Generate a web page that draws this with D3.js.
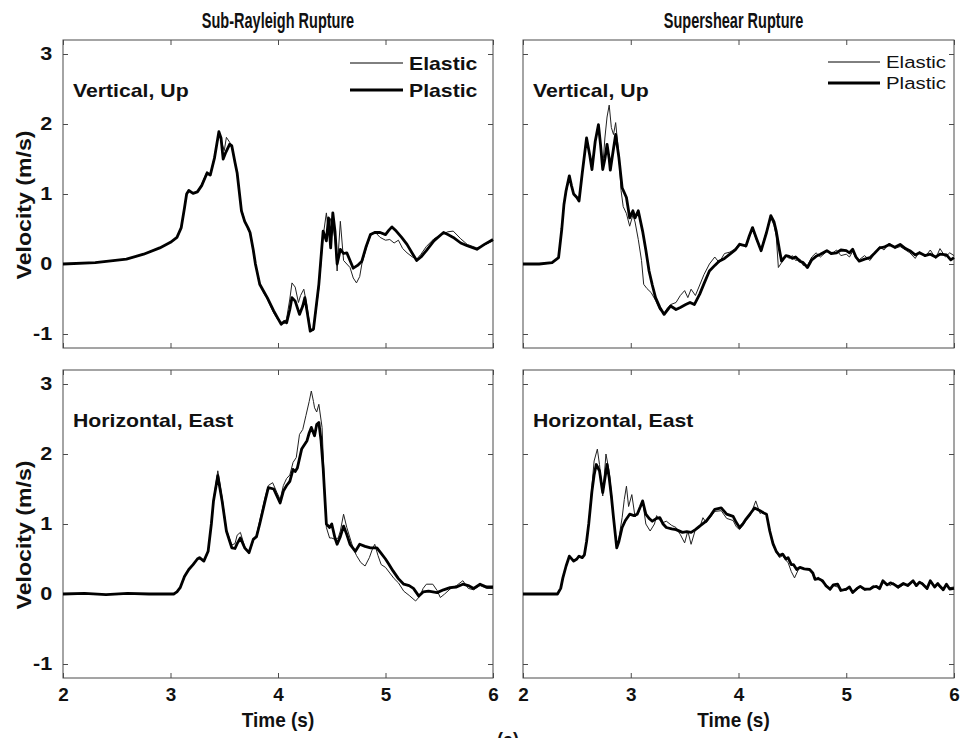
<!DOCTYPE html>
<html>
<head>
<meta charset="utf-8">
<script src="https://cdn.jsdelivr.net/npm/d3@7"></script>
<style>
  body { margin: 0; background: #fff; }
  svg { display: block; }
  .frame { fill: none; stroke: #4a4a4a; stroke-width: 1; }
  .tick line { stroke: #4a4a4a; }
  .domain { display: none; }
  .ytick text { font-family: "Liberation Sans", Arial, sans-serif; font-weight: bold; font-size: 18px; fill: #111; }
  .xtick text { font-family: "Liberation Sans", Arial, sans-serif; font-weight: bold; font-size: 18px; fill: #111; }
  .title { font-family: "Liberation Sans", Arial, sans-serif; font-weight: bold; font-size: 22px; fill: #111; }
  .lab { font-family: "Liberation Sans", Arial, sans-serif; font-weight: bold; font-size: 18px; fill: #111; }
  .elastic { fill: none; stroke: #222; stroke-width: 1; stroke-linejoin: round; }
  .plastic { fill: none; stroke: #000; stroke-width: 2.8; stroke-linejoin: round; }
</style>
</head>
<body>
<svg id="chart" width="962" height="738"></svg>
<script>
// axis settings
var timeDomain = [2, 6];
var velDomain = [-1.2, 3.2];
var timeTicks = [2, 3, 4, 5, 6];
var velTicks = [-1, 0, 1, 2, 3];
var columnTitles = ['Sub-Rayleigh Rupture', 'Supershear Rupture'];
var rowLabels = ['Vertical, Up', 'Horizontal, East'];
var seriesNames = ['Elastic', 'Plastic'];

var subVertPlastic = [[2.0,0],[2.3,0.02],[2.59,0.07],[2.75,0.14],[2.9,0.23],[3.0,0.31],[3.06,0.38],[3.10,0.52],[3.13,0.8],[3.15,1.0],[3.17,1.05],[3.21,1.01],[3.25,1.03],[3.29,1.12],[3.34,1.30],[3.37,1.27],[3.41,1.52],[3.45,1.89],[3.47,1.80],[3.49,1.50],[3.51,1.58],[3.55,1.71],[3.57,1.69],[3.60,1.45],[3.62,1.30],[3.66,0.76],[3.69,0.61],[3.72,0.52],[3.74,0.45],[3.77,0.2],[3.79,0.0],[3.83,-0.29],[3.87,-0.4],[3.90,-0.48],[3.96,-0.67],[4.00,-0.78],[4.03,-0.86],[4.06,-0.82],[4.08,-0.84],[4.11,-0.65],[4.13,-0.48],[4.16,-0.53],[4.20,-0.72],[4.23,-0.6],[4.25,-0.48],[4.28,-0.77],[4.30,-0.96],[4.33,-0.93],[4.38,-0.29],[4.42,0.47],[4.45,0.33],[4.47,0.66],[4.49,0.23],[4.51,0.73],[4.53,0.47],[4.55,0.0],[4.58,0.21],[4.61,0.15],[4.64,0.16],[4.67,0.05],[4.70,-0.06],[4.74,-0.02],[4.78,0.04],[4.82,0.25],[4.86,0.42],[4.90,0.45],[4.95,0.45],[5.00,0.42],[5.03,0.48],[5.06,0.53],[5.10,0.47],[5.15,0.38],[5.20,0.28],[5.25,0.15],[5.29,0.05],[5.33,0.1],[5.38,0.19],[5.45,0.33],[5.54,0.45],[5.58,0.42],[5.63,0.38],[5.70,0.30],[5.76,0.26],[5.85,0.21],[5.92,0.28],[6.0,0.35]];
var subVertElastic = [[2.0,0],[2.3,0.02],[2.59,0.07],[2.75,0.14],[2.9,0.23],[3.0,0.31],[3.06,0.38],[3.10,0.52],[3.13,0.8],[3.15,1.0],[3.17,1.05],[3.21,1.01],[3.25,1.03],[3.29,1.14],[3.34,1.32],[3.37,1.27],[3.41,1.55],[3.45,1.85],[3.48,1.72],[3.50,1.62],[3.52,1.81],[3.55,1.74],[3.57,1.70],[3.60,1.45],[3.62,1.30],[3.66,0.78],[3.69,0.63],[3.72,0.50],[3.74,0.45],[3.77,0.18],[3.79,-0.02],[3.83,-0.27],[3.87,-0.42],[3.90,-0.50],[3.96,-0.70],[4.00,-0.80],[4.03,-0.83],[4.06,-0.85],[4.08,-0.78],[4.11,-0.50],[4.13,-0.27],[4.16,-0.33],[4.19,-0.55],[4.21,-0.45],[4.24,-0.36],[4.27,-0.60],[4.30,-0.92],[4.33,-0.95],[4.38,-0.35],[4.42,0.40],[4.45,0.73],[4.47,0.45],[4.49,0.65],[4.51,0.55],[4.53,0.35],[4.55,-0.10],[4.58,0.61],[4.61,0.05],[4.64,0.0],[4.67,-0.05],[4.70,-0.20],[4.73,-0.27],[4.76,-0.18],[4.78,0.0],[4.82,0.22],[4.86,0.40],[4.90,0.46],[4.95,0.38],[5.00,0.34],[5.04,0.35],[5.08,0.30],[5.12,0.34],[5.16,0.22],[5.20,0.16],[5.25,0.10],[5.29,0.07],[5.33,0.14],[5.38,0.25],[5.45,0.36],[5.52,0.42],[5.58,0.46],[5.63,0.47],[5.70,0.36],[5.76,0.28],[5.85,0.23],[5.92,0.27],[6.0,0.33]];

var superVertPlastic = [[2.0,0],[2.15,0.0],[2.27,0.02],[2.33,0.09],[2.36,0.5],[2.38,0.85],[2.40,1.05],[2.43,1.26],[2.45,1.12],[2.47,1.0],[2.50,0.95],[2.52,0.90],[2.55,1.3],[2.59,1.80],[2.62,1.55],[2.64,1.35],[2.67,1.75],[2.70,1.99],[2.72,1.7],[2.74,1.35],[2.76,1.5],[2.78,1.71],[2.80,1.5],[2.81,1.34],[2.84,1.65],[2.86,1.85],[2.89,1.52],[2.92,1.09],[2.96,0.95],[2.99,0.66],[3.02,0.76],[3.04,0.66],[3.07,0.76],[3.11,0.47],[3.14,0.2],[3.17,-0.10],[3.20,-0.30],[3.23,-0.48],[3.27,-0.62],[3.31,-0.72],[3.34,-0.66],[3.37,-0.60],[3.42,-0.65],[3.46,-0.62],[3.51,-0.58],[3.55,-0.55],[3.59,-0.58],[3.64,-0.43],[3.68,-0.28],[3.73,-0.10],[3.78,-0.02],[3.82,0.04],[3.87,0.08],[3.92,0.14],[3.97,0.20],[4.01,0.28],[4.07,0.26],[4.10,0.40],[4.13,0.52],[4.17,0.35],[4.21,0.19],[4.26,0.45],[4.30,0.69],[4.33,0.60],[4.35,0.47],[4.38,0.20],[4.40,0.04],[4.44,0.12],[4.47,0.11],[4.50,0.08],[4.53,0.10],[4.57,0.04],[4.60,0.02],[4.64,-0.05],[4.68,0.06],[4.72,0.11],[4.76,0.14],[4.82,0.19],[4.86,0.15],[4.91,0.16],[4.95,0.20],[5.00,0.19],[5.03,0.16],[5.06,0.21],[5.09,0.10],[5.12,0.04],[5.17,0.07],[5.22,0.09],[5.26,0.15],[5.31,0.23],[5.35,0.24],[5.40,0.28],[5.45,0.24],[5.50,0.28],[5.55,0.22],[5.59,0.19],[5.64,0.13],[5.68,0.16],[5.73,0.12],[5.78,0.14],[5.83,0.10],[5.87,0.14],[5.93,0.13],[5.97,0.06],[6.0,0.09]];
var superVertElastic = [[2.0,0],[2.15,0.0],[2.27,0.02],[2.33,0.09],[2.36,0.5],[2.38,0.85],[2.40,1.02],[2.43,1.22],[2.45,1.10],[2.47,1.0],[2.50,0.96],[2.52,0.92],[2.55,1.3],[2.59,1.78],[2.62,1.55],[2.64,1.37],[2.67,1.75],[2.70,1.97],[2.72,1.68],[2.74,1.38],[2.76,1.8],[2.78,2.10],[2.80,2.27],[2.82,1.95],[2.84,1.85],[2.86,2.02],[2.89,1.55],[2.91,1.05],[2.93,0.82],[2.96,0.72],[2.99,0.54],[3.02,0.70],[3.04,0.60],[3.07,0.35],[3.10,0.05],[3.12,-0.29],[3.15,-0.35],[3.19,-0.41],[3.23,-0.52],[3.27,-0.66],[3.31,-0.70],[3.34,-0.63],[3.37,-0.58],[3.42,-0.55],[3.46,-0.45],[3.50,-0.38],[3.53,-0.48],[3.56,-0.36],[3.60,-0.45],[3.64,-0.30],[3.68,-0.15],[3.73,0.0],[3.78,0.10],[3.82,0.02],[3.87,0.15],[3.92,0.17],[3.97,0.22],[4.01,0.30],[4.07,0.24],[4.10,0.38],[4.13,0.50],[4.17,0.33],[4.21,0.21],[4.26,0.47],[4.30,0.66],[4.33,0.55],[4.35,0.40],[4.37,-0.05],[4.40,0.02],[4.44,0.12],[4.47,0.08],[4.50,0.12],[4.53,0.05],[4.57,0.07],[4.60,-0.02],[4.64,-0.02],[4.68,0.10],[4.72,0.16],[4.76,0.10],[4.82,0.18],[4.86,0.14],[4.91,0.20],[4.95,0.12],[5.00,0.14],[5.03,0.10],[5.06,0.18],[5.09,0.08],[5.12,0.06],[5.17,0.12],[5.22,0.05],[5.26,0.14],[5.31,0.25],[5.35,0.20],[5.40,0.30],[5.45,0.22],[5.50,0.25],[5.55,0.20],[5.59,0.16],[5.64,0.08],[5.68,0.18],[5.73,0.10],[5.78,0.20],[5.83,0.08],[5.87,0.22],[5.92,0.10],[5.96,0.16],[6.0,0.12]];

var subHorizPlastic = [[2.0,0],[2.2,0.01],[2.4,-0.01],[2.6,0.01],[2.8,0],[3.03,0],[3.06,0.03],[3.09,0.09],[3.13,0.25],[3.17,0.35],[3.21,0.42],[3.25,0.50],[3.27,0.52],[3.31,0.47],[3.35,0.61],[3.38,1.0],[3.40,1.33],[3.44,1.69],[3.48,1.33],[3.52,0.90],[3.57,0.66],[3.60,0.65],[3.62,0.72],[3.65,0.80],[3.69,0.66],[3.73,0.59],[3.77,0.78],[3.80,0.82],[3.83,1.0],[3.88,1.33],[3.91,1.52],[3.96,1.50],[3.99,1.40],[4.02,1.30],[4.05,1.47],[4.08,1.55],[4.11,1.61],[4.14,1.78],[4.16,1.75],[4.18,1.80],[4.22,2.07],[4.27,2.19],[4.29,2.30],[4.31,2.38],[4.34,2.26],[4.36,2.42],[4.38,2.45],[4.40,2.2],[4.42,1.80],[4.45,1.0],[4.48,0.95],[4.50,1.0],[4.53,0.80],[4.55,0.71],[4.58,0.82],[4.61,0.97],[4.64,0.85],[4.67,0.71],[4.72,0.61],[4.76,0.71],[4.81,0.68],[4.86,0.66],[4.92,0.66],[4.96,0.58],[5.00,0.50],[5.03,0.43],[5.07,0.33],[5.12,0.22],[5.17,0.14],[5.22,0.12],[5.26,0.08],[5.31,-0.03],[5.35,0.03],[5.40,0.04],[5.48,0.02],[5.54,0.06],[5.60,0.09],[5.66,0.10],[5.72,0.14],[5.77,0.12],[5.82,0.08],[5.88,0.14],[5.94,0.10],[6.0,0.10]];
var subHorizElastic = [[2.0,0],[2.2,0.01],[2.4,-0.01],[2.6,0.01],[2.8,0],[3.03,0],[3.06,0.03],[3.09,0.09],[3.13,0.25],[3.17,0.35],[3.21,0.42],[3.25,0.50],[3.27,0.52],[3.31,0.47],[3.35,0.61],[3.38,1.0],[3.40,1.35],[3.44,1.76],[3.48,1.38],[3.52,0.92],[3.57,0.70],[3.60,0.72],[3.62,0.84],[3.65,0.88],[3.69,0.68],[3.73,0.58],[3.77,0.76],[3.80,0.84],[3.83,1.05],[3.88,1.38],[3.91,1.55],[3.95,1.59],[3.99,1.45],[4.02,1.35],[4.05,1.55],[4.08,1.65],[4.11,1.70],[4.14,1.88],[4.17,1.95],[4.20,2.28],[4.23,2.35],[4.26,2.55],[4.29,2.75],[4.31,2.90],[4.33,2.75],[4.34,2.66],[4.36,2.60],[4.38,2.71],[4.41,2.38],[4.43,1.6],[4.45,0.95],[4.48,0.80],[4.50,0.80],[4.53,0.78],[4.56,0.80],[4.58,0.9],[4.61,1.14],[4.64,0.95],[4.67,0.80],[4.70,0.65],[4.73,0.55],[4.77,0.45],[4.81,0.40],[4.85,0.52],[4.88,0.65],[4.90,0.71],[4.93,0.55],[4.96,0.42],[5.00,0.38],[5.04,0.30],[5.08,0.22],[5.12,0.16],[5.17,0.04],[5.22,-0.02],[5.28,-0.10],[5.32,-0.03],[5.35,0.08],[5.38,0.14],[5.44,0.14],[5.48,0.05],[5.51,-0.05],[5.55,0.0],[5.60,0.07],[5.66,0.12],[5.72,0.19],[5.77,0.08],[5.82,0.06],[5.88,0.12],[5.94,0.08],[6.0,0.08]];

var superHorizPlastic = [[2.0,0],[2.1,0],[2.2,0.0],[2.32,0],[2.35,0.08],[2.37,0.23],[2.40,0.40],[2.43,0.54],[2.47,0.47],[2.50,0.50],[2.52,0.54],[2.55,0.52],[2.57,0.56],[2.59,0.75],[2.61,1.0],[2.64,1.47],[2.66,1.70],[2.68,1.85],[2.71,1.76],[2.73,1.55],[2.74,1.45],[2.76,1.65],[2.78,1.85],[2.80,1.66],[2.82,1.40],[2.84,1.09],[2.87,0.66],[2.89,0.75],[2.92,0.95],[2.95,1.05],[2.99,1.14],[3.03,1.12],[3.06,1.14],[3.09,1.25],[3.11,1.33],[3.14,1.14],[3.17,1.08],[3.20,1.04],[3.24,1.08],[3.27,1.09],[3.30,1.00],[3.33,0.95],[3.38,0.93],[3.42,0.92],[3.48,0.88],[3.52,0.89],[3.56,0.88],[3.60,0.92],[3.64,0.97],[3.70,1.04],[3.74,1.12],[3.78,1.21],[3.84,1.23],[3.89,1.14],[3.95,1.11],[3.98,1.02],[4.01,0.95],[4.04,1.00],[4.07,1.07],[4.11,1.15],[4.15,1.23],[4.20,1.19],[4.23,1.16],[4.26,1.14],[4.29,0.90],[4.32,0.72],[4.35,0.61],[4.38,0.55],[4.41,0.57],[4.44,0.50],[4.46,0.52],[4.49,0.42],[4.51,0.42],[4.54,0.35],[4.57,0.38],[4.61,0.36],[4.66,0.35],[4.69,0.30],[4.71,0.21],[4.74,0.22],[4.78,0.19],[4.81,0.12],[4.85,0.07],[4.88,0.13],[4.92,0.14],[4.95,0.05],[5.00,0.07],[5.03,0.10],[5.06,0.02],[5.10,0.08],[5.13,0.11],[5.17,0.07],[5.22,0.07],[5.25,0.10],[5.28,0.11],[5.31,0.08],[5.34,0.19],[5.38,0.13],[5.41,0.16],[5.44,0.14],[5.48,0.10],[5.53,0.15],[5.57,0.12],[5.62,0.19],[5.65,0.12],[5.68,0.17],[5.71,0.14],[5.75,0.08],[5.78,0.19],[5.82,0.10],[5.85,0.15],[5.87,0.11],[5.90,0.06],[5.93,0.14],[5.96,0.07],[6.0,0.08]];
var superHorizElastic = [[2.0,0],[2.1,0],[2.2,0.0],[2.32,0],[2.35,0.08],[2.37,0.23],[2.40,0.40],[2.43,0.54],[2.47,0.47],[2.50,0.50],[2.52,0.54],[2.55,0.52],[2.57,0.56],[2.59,0.75],[2.61,1.0],[2.64,1.55],[2.66,1.90],[2.69,2.07],[2.71,1.85],[2.73,1.55],[2.74,1.40],[2.76,1.80],[2.77,2.00],[2.80,1.75],[2.82,1.45],[2.84,1.09],[2.87,0.66],[2.89,0.80],[2.92,1.09],[2.94,1.35],[2.96,1.54],[2.98,1.25],[3.01,1.42],[3.04,1.10],[3.07,1.15],[3.11,1.33],[3.14,1.00],[3.18,0.90],[3.22,1.00],[3.24,1.12],[3.27,1.05],[3.30,1.02],[3.33,1.04],[3.38,0.98],[3.42,0.95],[3.46,0.85],[3.50,0.73],[3.53,0.90],[3.56,0.71],[3.60,0.92],[3.64,0.95],[3.67,1.09],[3.70,1.02],[3.74,1.10],[3.78,1.18],[3.84,1.19],[3.89,1.08],[3.95,1.05],[3.98,0.96],[4.01,0.92],[4.04,0.98],[4.07,1.05],[4.11,1.12],[4.16,1.33],[4.20,1.15],[4.23,1.18],[4.26,1.12],[4.29,0.92],[4.32,0.70],[4.35,0.61],[4.38,0.52],[4.41,0.55],[4.44,0.48],[4.46,0.45],[4.49,0.32],[4.52,0.23],[4.55,0.33],[4.57,0.38],[4.61,0.36],[4.66,0.35],[4.69,0.28],[4.71,0.20],[4.74,0.24],[4.78,0.16],[4.81,0.14],[4.85,0.05],[4.88,0.12],[4.92,0.10],[4.95,0.07],[5.00,0.05],[5.03,0.10],[5.06,0.04],[5.10,0.06],[5.13,0.10],[5.17,0.05],[5.22,0.08],[5.25,0.12],[5.28,0.09],[5.31,0.06],[5.34,0.16],[5.38,0.15],[5.41,0.12],[5.44,0.16],[5.48,0.08],[5.53,0.13],[5.57,0.14],[5.62,0.17],[5.65,0.10],[5.68,0.15],[5.71,0.16],[5.75,0.06],[5.78,0.17],[5.82,0.12],[5.85,0.13],[5.87,0.09],[5.90,0.08],[5.93,0.12],[5.96,0.09],[6.0,0.10]];

var svg = d3.select('#chart');

// panel boxes
var cols = [{x0: 63, x1: 493}, {x0: 523, x1: 954}];
var rows = [{y0: 40, y1: 348}, {y0: 370, y1: 678}];

var panels = [
  {row: 0, col: 0, elastic: subVertElastic, plastic: subVertPlastic},
  {row: 0, col: 1, elastic: superVertElastic, plastic: superVertPlastic},
  {row: 1, col: 0, elastic: subHorizElastic, plastic: subHorizPlastic},
  {row: 1, col: 1, elastic: superHorizElastic, plastic: superHorizPlastic}
];

// text placed at x,y and stretched horizontally by sx
function addText(parent, cls, x, y, sx, str){
  return parent.append('text').attr('class', cls)
    .attr('transform', 'translate(' + x + ',' + y + ') scale(' + sx + ',1)')
    .text(str);
}

panels.forEach(function(p){
  var c = cols[p.col], r = rows[p.row];
  var x = d3.scaleLinear().domain(timeDomain).range([c.x0, c.x1]);
  var y = d3.scaleLinear().domain(velDomain).range([r.y1, r.y0]);
  var g = svg.append('g');

  // inward ticks on all four sides
  g.append('g').attr('class', 'ytick')
    .attr('transform', 'translate(' + c.x0 + ',0)')
    .call(d3.axisLeft(y).tickValues(velTicks).tickSize(-5).tickPadding(9)
      .tickFormat(p.col === 0 ? function(d){ return String(d); } : ''))
    .selectAll('text').attr('transform', 'scale(1.2,1)');
  g.append('g').attr('class', 'ytick')
    .attr('transform', 'translate(' + c.x1 + ',0)')
    .call(d3.axisRight(y).tickValues(velTicks).tickSize(-5).tickFormat(''));
  g.append('g').attr('class', 'xtick')
    .attr('transform', 'translate(0,' + r.y1 + ')')
    .call(d3.axisBottom(x).tickValues(timeTicks).tickSize(-5).tickPadding(10)
      .tickFormat(p.row === 1 ? function(d){ return String(d); } : ''))
    .selectAll('text').attr('transform', 'scale(1.05,1)');
  g.append('g').attr('class', 'xtick')
    .attr('transform', 'translate(0,' + r.y0 + ')')
    .call(d3.axisTop(x).tickValues(timeTicks).tickSize(-5).tickFormat(''));

  g.append('rect').attr('class', 'frame')
    .attr('x', c.x0).attr('y', r.y0)
    .attr('width', c.x1 - c.x0).attr('height', r.y1 - r.y0);

  var line = d3.line().x(function(d){ return x(d[0]); }).y(function(d){ return y(d[1]); });
  g.append('path').attr('class', 'elastic').attr('d', line(p.elastic));
  g.append('path').attr('class', 'plastic').attr('d', line(p.plastic));

  addText(g, 'lab', c.x0 + 10, r.y0 + 57, 1.18, rowLabels[p.row]);
});

// legends
var leg0 = svg.append('g').attr('transform', 'translate(350,0)');
seriesNames.forEach(function(name, i){
  leg0.append('line').attr('x1', 0).attr('x2', 53)
    .attr('y1', 63 + i * 27).attr('y2', 63 + i * 27)
    .attr('stroke', '#000').attr('stroke-width', i ? 2.8 : 1);
  addText(leg0, 'lab', 59, 70 + i * 27, 1.18, name);
});
var leg1 = svg.append('g').attr('transform', 'translate(828,0)');
seriesNames.forEach(function(name, i){
  leg1.append('line').attr('x1', 0).attr('x2', 52)
    .attr('y1', 62 + i * 21).attr('y2', 62 + i * 21)
    .attr('stroke', '#000').attr('stroke-width', i ? 2.8 : 1);
  addText(leg1, 'lab', 58, 68 + i * 21, 1.2, name)
    .style('font-weight', 'normal').style('font-size', '17px');
});

// column titles and time labels
columnTitles.forEach(function(t, i){
  var cx = (cols[i].x0 + cols[i].x1) / 2 - (i ? 5 : 0);
  addText(svg, 'title', cx, 28, 0.66, t).attr('text-anchor', 'middle');
  addText(svg, 'title', cx, 727, 0.95, 'Time (s)').attr('text-anchor', 'middle')
    .style('font-size', '20px');
});

// y axis labels
rows.forEach(function(r){
  svg.append('text').attr('class', 'lab')
    .attr('transform', 'translate(31,' + ((r.y0 + r.y1) / 2 + 11) + ') rotate(-90) scale(1.1,1)')
    .attr('text-anchor', 'middle').style('font-size', '21px')
    .text('Velocity (m/s)');
});

addText(svg, 'title', 508, 747, 0.9, '(a)').attr('text-anchor', 'middle')
  .style('font-size', '20px');
</script>
</body>
</html>
